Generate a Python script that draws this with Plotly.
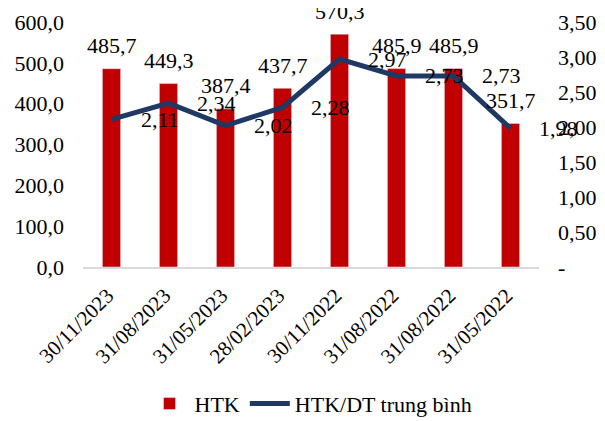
import plotly.graph_objects as go

periods = ['30/11/2023', '31/08/2023', '31/05/2023', '28/02/2023',
           '30/11/2022', '31/08/2022', '31/08/2022', '31/05/2022']
htk = [485.7, 449.3, 387.4, 437.7, 570.3, 485.9, 485.9, 351.7]
htk_dt = [2.11, 2.34, 2.02, 2.28, 2.97, 2.73, 2.73, 1.98]

left_ticks = [0, 100, 200, 300, 400, 500, 600]
left_labels = ['0,0', '100,0', '200,0', '300,0', '400,0', '500,0', '600,0']
right_ticks = [0, 0.5, 1.0, 1.5, 2.0, 2.5, 3.0, 3.5]
right_labels = ['-', '0,50', '1,00', '1,50', '2,00', '2,50', '3,00', '3,50']

FONT = 'Liberation Serif'
RED = '#C00000'
NAVY = '#1F3864'


def vn(v, nd):
    return f"{v:.{nd}f}".replace('.', ',')


x = list(range(len(periods)))

fig = go.Figure()

fig.add_trace(go.Bar(
    x=x, y=htk, name='HTK',
    marker=dict(color=RED),
    width=0.32,
))

fig.add_trace(go.Scatter(
    x=x, y=htk_dt, name='HTK/DT trung bình',
    mode='lines', yaxis='y2',
    line=dict(color=NAVY, width=5),
))

annotations = []
for i, v in enumerate(htk):
    annotations.append(dict(
        x=i, y=v, xref='x', yref='y', text=vn(v, 1), showarrow=False,
        xanchor='center', yanchor='middle', yshift=23,
        font=dict(family=FONT, size=22, color='black')
    ))
for i, v in enumerate(htk_dt):
    annotations.append(dict(
        x=i, y=v, xref='x', yref='y2', text=vn(v, 2), showarrow=False,
        xanchor='center', yanchor='middle', xshift=48, yshift=0,
        font=dict(family=FONT, size=22, color='black')
    ))

# page body has an 8px margin, so margins are trimmed by 8px on left/top
fig.update_layout(
    width=605, height=421,
    margin=dict(l=75, r=74, t=14, b=162),
    plot_bgcolor='white', paper_bgcolor='white',
    font=dict(family=FONT, size=22, color='black'),
    xaxis=dict(
        tickvals=x, ticktext=periods, tickangle=-45,
        range=[-0.5, 7.5], showgrid=False, zeroline=False,
        showline=True, linecolor='#D9D9D9', linewidth=2,
        ticks='', tickfont=dict(size=21), automargin=False,
        ticklabelstandoff=6, ticklabelshift=-4,
    ),
    yaxis=dict(
        range=[0, 600], tickvals=left_ticks, ticktext=left_labels,
        showgrid=False, zeroline=False, showline=False, ticks='',
        ticklabelstandoff=18, automargin=False,
    ),
    yaxis2=dict(
        range=[0, 3.5], tickvals=right_ticks, ticktext=right_labels,
        overlaying='y', side='right', showgrid=False, zeroline=False,
        showline=False, ticks='', ticklabelstandoff=18, automargin=False,
    ),
    legend=dict(
        orientation='h', x=0.5, xanchor='center',
        yref='container', y=0.06, yanchor='middle',
        font=dict(size=22), itemwidth=40,
    ),
    annotations=annotations,
)

fig.write_html("out.html")
